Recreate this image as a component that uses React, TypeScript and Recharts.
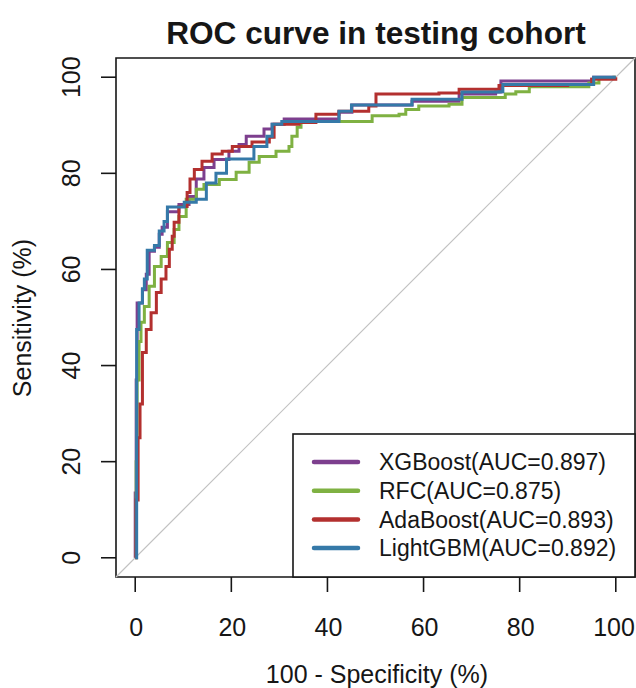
import { LineChart, Line, XAxis, YAxis, ReferenceLine, ReferenceArea } from 'recharts'

const FONT = '"Liberation Sans", Arial, Helvetica, sans-serif'
const INK = '#161616'

const TICKS = [0, 20, 40, 60, 80, 100]
const MODELS = ['XGBoost', 'RFC', 'AdaBoost', 'LightGBM']
const AUCS = [0.897, 0.875, 0.893, 0.892]
const COLORS = ['#7d3f8e', '#7fb142', '#b3302f', '#3579a8']

// 100 - specificity (%) and sensitivity (%)
const xgbFpr = [0, 0, 0, 0.2, 0.4, 1.2, 1.5, 2.3, 2.9, 4, 5, 5.6, 6.7, 9.1, 11.2, 12.7, 14.3, 16.4, 19.5, 21.6, 23.1, 26.8, 28.5, 31, 41, 42.4, 45.1, 57.6, 67.4, 75, 76.1, 95, 95.4, 100]
const xgbTpr = [0, 5.8, 13.5, 37, 53, 53, 55.8, 59, 63.8, 64.6, 67.3, 68.8, 72, 73.5, 75.2, 78.8, 81.2, 82.9, 84.6, 86, 87.7, 89.2, 90.2, 91.3, 91.3, 92.7, 94.2, 95, 96.5, 96.9, 99.2, 99.6, 100, 100]

const rfcFpr = [0, 0.2, 0.4, 0.8, 1.2, 1.9, 2.9, 4, 5.4, 6.7, 8.1, 9.1, 10.6, 12.7, 14.3, 17.5, 21, 23.7, 25.8, 29.3, 32, 32.6, 33.7, 34.5, 48, 49.3, 54.9, 56.3, 59, 65.3, 68, 77, 79.2, 82, 94.4, 96.5, 99.6, 100]
const rfcTpr = [0, 20, 37, 45, 49, 52.3, 56.5, 60.6, 62.7, 65.6, 68.3, 71, 74.6, 76.7, 77.7, 78.7, 80.2, 82.3, 83.5, 84.6, 85.6, 87.7, 89.6, 90.8, 90.8, 92, 92.3, 93.3, 94, 94.4, 95.8, 96.5, 97, 98, 98.8, 99.8, 100, 100]

const adaFpr = [0, 0.2, 0.6, 1, 1.5, 2.3, 3.3, 4.4, 5.4, 6.4, 7.1, 7.7, 8.1, 9.1, 10.8, 11.4, 12.3, 13.9, 16, 18.1, 20.2, 24.3, 27.9, 28.9, 34.1, 37.6, 42.4, 48.6, 50.1, 63.2, 67.4, 75.7, 90, 95, 100]
const adaTpr = [0, 12, 25, 32, 42.7, 47.5, 51, 55.2, 58, 60.6, 64.2, 66.9, 69.8, 73.1, 76, 78.8, 80.8, 82.5, 84, 84.6, 85.6, 86.5, 87.5, 90.2, 90.6, 92.3, 92.9, 94, 96.5, 96.7, 97.5, 98.3, 98.5, 99.6, 100]

const lgbFpr = [0, 0.3, 0.3, 0.8, 1.5, 1.9, 2.5, 4, 5, 6, 6.7, 8.7, 10.2, 12.7, 14.8, 16.8, 19, 24.3, 24.7, 27.4, 28.5, 30.5, 42, 42.4, 45, 54, 57.6, 68, 75.7, 76.5, 95, 95.4, 100]
const lgbTpr = [0, 20, 47.5, 53, 56, 58, 64, 65, 68, 70, 73, 73, 74, 74.6, 78, 80, 83, 83, 85.6, 87.7, 90.2, 90.8, 90.8, 92.9, 94.2, 94.2, 95.4, 96.9, 97, 98.5, 98.5, 100, 100]

const toPoints = (fpr: number[], tpr: number[]) => fpr.map((x, i) => ({ x, y: tpr[i] }))

const SERIES = [
  toPoints(xgbFpr, xgbTpr),
  toPoints(rfcFpr, rfcTpr),
  toPoints(adaFpr, adaTpr),
  toPoints(lgbFpr, lgbTpr),
]

function XTick({ x, y, payload }: any) {
  // keep the last label inside the frame, the reference clips it at the edge
  const cx = Math.min(x + 1, 614)
  return (
    <text x={cx} y={y} dy={18} textAnchor="middle" fontSize={25} fill={INK} fontFamily={FONT}>
      {payload.value}
    </text>
  )
}

function YTick({ x, y, payload }: any) {
  return (
    <text
      x={x}
      y={y}
      transform={`rotate(-90 ${x} ${y})`}
      textAnchor="middle"
      fontSize={25}
      fill={INK}
      fontFamily={FONT}
    >
      {payload.value}
    </text>
  )
}

export default function App() {
  return (
    <div style={{ position: 'absolute', left: 0, top: 0, width: 636, height: 688, background: '#fff' }}>
      <LineChart width={636} height={688} margin={{ top: 58, right: 1, left: 0, bottom: 0 }}>
        <XAxis
          dataKey="x"
          type="number"
          domain={[-4, 104]}
          ticks={TICKS}
          allowDataOverflow
          axisLine={false}
          tickLine={{ stroke: INK, strokeWidth: 1.6 }}
          tickSize={15}
          tickMargin={26}
          height={111}
          tick={<XTick />}
        />
        <YAxis
          dataKey="y"
          type="number"
          domain={[-4, 104]}
          ticks={TICKS}
          allowDataOverflow
          axisLine={false}
          tickLine={{ stroke: INK, strokeWidth: 1.6 }}
          tickSize={15}
          tickMargin={21}
          width={116}
          tick={<YTick />}
        />
        <ReferenceLine
          segment={[{ x: -4, y: -4 }, { x: 104, y: 104 }]}
          stroke="#c2c2c2"
          strokeWidth={1.2}
        />
        {SERIES.map((pts, i) => (
          <Line
            key={MODELS[i]}
            data={pts}
            dataKey="y"
            type="stepAfter"
            stroke={COLORS[i]}
            strokeWidth={3}
            dot={false}
            activeDot={false}
            isAnimationActive={false}
          />
        ))}
        <ReferenceArea x1={-4} x2={104} y1={-4} y2={104} fill="none" stroke={INK} strokeWidth={1.6} />
      </LineChart>

      <svg
        width={636}
        height={688}
        style={{ position: 'absolute', left: 0, top: 0, pointerEvents: 'none' }}
        fontFamily={FONT}
      >
        <text x={376} y={44} textAnchor="middle" fontSize={31.6} fontWeight="bold" fill={INK}>
          ROC curve in testing cohort
        </text>
        <text x={377} y={683} textAnchor="middle" fontSize={25} fill={INK}>
          100 - Specificity (%)
        </text>
        <text x={31} y={318} transform="rotate(-90 31 318)" textAnchor="middle" fontSize={25} fill={INK}>
          Sensitivity (%)
        </text>

        <rect x={293} y={434} width={342} height={143} fill="#fff" stroke={INK} strokeWidth={1.6} />
        {MODELS.map((m, i) => {
          const cy = 462 + i * 28.7
          return (
            <g key={m}>
              <line x1={314} x2={358} y1={cy} y2={cy} stroke={COLORS[i]} strokeWidth={4.5} strokeLinecap="round" />
              <text x={379} y={cy} dy="0.36em" fontSize={23} fill={INK}>
                {`${m}(AUC=${AUCS[i].toFixed(3)})`}
              </text>
            </g>
          )
        })}
      </svg>
    </div>
  )
}
